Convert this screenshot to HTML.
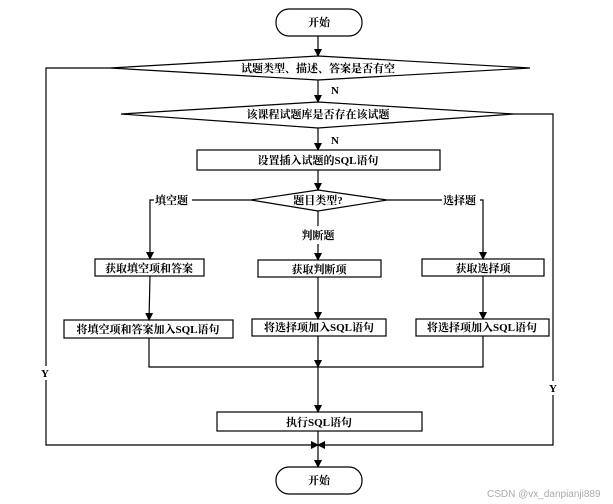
<!DOCTYPE html>
<html><head><meta charset="utf-8"><style>
html,body{margin:0;padding:0;background:#fff;width:613px;height:504px;overflow:hidden}
svg text{font-family:"Liberation Serif","Noto Serif CJK SC",serif;font-size:11px;font-weight:bold;fill:#000}
</style></head><body>
<svg width="613" height="504" viewBox="0 0 613 504" xmlns="http://www.w3.org/2000/svg">
<defs><marker id="a" markerWidth="8" markerHeight="8" refX="7" refY="4" orient="auto" markerUnits="userSpaceOnUse"><path d="M0,0 L8,4 L0,8 Z" fill="#000"/></marker></defs>
<g fill="none" stroke="#000" stroke-width="1.2">
<rect x="276" y="9" width="86" height="27" rx="13"/>
<line x1="318" y1="36" x2="318" y2="56" marker-end="url(#a)"/>
<polygon points="110,68 318,56 530,68 318,80" fill="#fff"/>
<line x1="318" y1="80" x2="318" y2="102" marker-end="url(#a)"/>
<polygon points="121,114 318,102 514,114 318,128" fill="#fff"/>
<line x1="318" y1="128" x2="318" y2="150" marker-end="url(#a)"/>
<rect x="197" y="150" width="243" height="20"/>
<line x1="318" y1="170" x2="318" y2="190" marker-end="url(#a)"/>
<polygon points="251,200 318,190 387,200 318,211"/>
<polyline points="251,200 150,200 150,259" marker-end="url(#a)"/>
<polyline points="387,200 483,200 483,259" marker-end="url(#a)"/>
<line x1="318" y1="211" x2="318" y2="226"/>
<line x1="318" y1="244" x2="318" y2="260" marker-end="url(#a)"/>
<rect x="95" y="259" width="109" height="17"/>
<rect x="258" y="260" width="123" height="17"/>
<rect x="422" y="259" width="122" height="17"/>
<line x1="150" y1="276" x2="149" y2="320" marker-end="url(#a)"/>
<line x1="318" y1="277" x2="318" y2="319" marker-end="url(#a)"/>
<line x1="483" y1="276" x2="483" y2="319" marker-end="url(#a)"/>
<rect x="64" y="320" width="169" height="18"/>
<rect x="252" y="319" width="134" height="17"/>
<rect x="416" y="319" width="133" height="17"/>
<polyline points="149,338 149,367 483,367 483,336"/>
<line x1="318" y1="336" x2="318" y2="367" marker-end="url(#a)"/>
<line x1="318" y1="367" x2="318" y2="412" marker-end="url(#a)"/>
<rect x="217" y="412" width="205" height="19"/>
<line x1="318" y1="431" x2="318" y2="467" marker-end="url(#a)"/>
<polyline points="110,68 46,68 46,366"/>
<polyline points="46,380 46,445 318,445" marker-end="url(#a)"/>
<polyline points="514,114 553,114 553,381"/>
<polyline points="553,395 553,445 318,445" marker-end="url(#a)"/>
<rect x="276" y="467" width="86" height="27" rx="13"/>
</g>
<g text-anchor="middle">
<text x="319" y="26">开始</text>
<text x="318" y="72">试题类型、描述、答案是否有空</text>
<text x="318" y="118">该课程试题库是否存在该试题</text>
<text x="318" y="164">设置插入试题的SQL语句</text>
<text x="318" y="204">题目类型?</text>
<text x="318" y="239">判断题</text>
<text x="149" y="272">获取填空项和答案</text>
<text x="319" y="273">获取判断项</text>
<text x="483" y="272">获取选择项</text>
<text x="148" y="333">将填空项和答案加入SQL语句</text>
<text x="319" y="331">将选择项加入SQL语句</text>
<text x="482" y="331">将选择项加入SQL语句</text>
<text x="319" y="426">执行SQL语句</text>
<text x="319" y="484">开始</text>
</g>
<rect x="154" y="193" width="38" height="13" fill="#fff"/>
<rect x="442" y="193" width="38" height="13" fill="#fff"/>
<text x="155" y="204">填空题</text>
<text x="443" y="204">选择题</text>
<text x="331" y="94">N</text>
<text x="331" y="144">N</text>
<text x="41" y="377">Y</text>
<text x="549" y="392">Y</text>
<text x="487" y="497" style="font-family:'Liberation Sans',sans-serif;font-weight:normal;font-size:10px;fill:#aaa">CSDN @vx_danpianji889</text>
</svg>
</body></html>
